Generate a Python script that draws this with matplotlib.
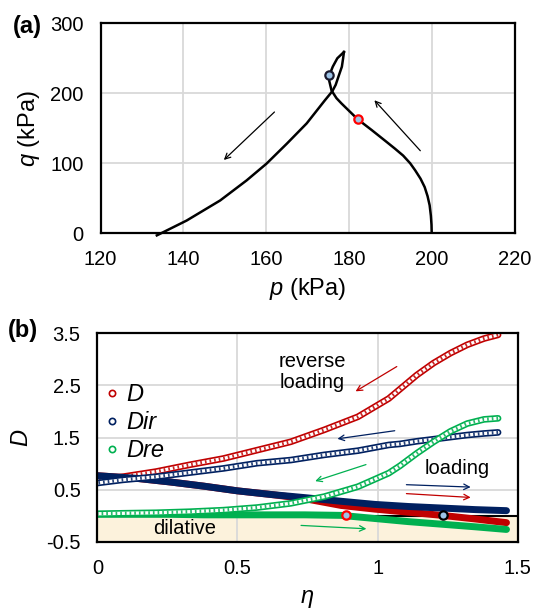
import matplotlib
matplotlib.use('Agg')
import matplotlib.pyplot as plt
import matplotlib.patheffects as pe
from matplotlib.lines import Line2D

plt.rcParams['font.family'] = 'Liberation Sans'
plt.rcParams['mathtext.fontset'] = 'custom'
plt.rcParams['mathtext.rm'] = 'Liberation Sans'
plt.rcParams['mathtext.it'] = 'Liberation Sans:italic'
plt.rcParams['axes.unicode_minus'] = False

# ---- (a) stress path, p-q ----
p_load = [200.0, 199.95, 199.8, 199.5, 199.0, 198.3, 197.3, 196.0, 194.8, 193.1,
          191.1, 189.0, 185.5, 182.1, 180.8, 179.5, 178.2, 177.0, 175.8, 175.2,
          175.3, 176.1, 177.2, 178.8]
q_load = [0, 12, 25, 40, 53, 66, 78, 90, 100, 111, 121, 131, 147.5, 163, 170.5, 178,
          185.5, 193, 204, 219, 226, 238, 250, 259]
p_rev = [178.8, 178.6, 178.3, 177.6, 176.8, 176.0, 174.2, 173.0, 169.8, 165.0,
         160.1, 155.3, 148.9, 140.8, 133.6]
q_rev = [259, 250, 238, 226, 212, 203, 190, 181, 157, 128, 99.5, 75.6, 46.9, 18.2, -3]
pts_a = [(175.3, 226), (182.1, 163)]

# ---- (b) dilatancy vs stress ratio ----
eta_load = [0.0, 0.14, 0.26, 0.38, 0.50, 0.62, 0.74, 0.87, 0.99, 1.11, 1.23, 1.35, 1.46]
D_load = [0.77, 0.72, 0.65, 0.57, 0.48, 0.41, 0.33, 0.20, 0.13, 0.07, 0.01, -0.06, -0.13]
Dir_load = [0.77, 0.72, 0.65, 0.57, 0.48, 0.41, 0.35, 0.28, 0.22, 0.18, 0.15, 0.12, 0.10]
Dre_load = [0.03, 0.03, 0.03, 0.02, 0.02, 0.02, 0.02, 0.01, -0.05, -0.11, -0.16, -0.21, -0.26]

eta_rev = [1.43, 1.38, 1.32, 1.26, 1.20, 1.14, 1.08, 1.04, 0.93, 0.81, 0.69, 0.57,
           0.45, 0.33, 0.21, 0.09, 0.0]
D_rev = [3.47, 3.40, 3.28, 3.12, 2.93, 2.70, 2.43, 2.25, 1.90, 1.65, 1.42, 1.26,
         1.10, 0.98, 0.85, 0.75, 0.67]
Dir_rev = [1.60, 1.58, 1.55, 1.51, 1.47, 1.43, 1.38, 1.36, 1.25, 1.17, 1.07, 1.01,
           0.91, 0.83, 0.75, 0.69, 0.63]
Dre_rev = [1.87, 1.85, 1.77, 1.62, 1.42, 1.20, 0.96, 0.82, 0.56, 0.37, 0.24, 0.16,
           0.11, 0.08, 0.06, 0.05, 0.04]
pts_b = [(0.887, 0.01, '#ff0000'), (1.234, 0.01, 'black')]

red, navy, green = '#c00000', '#002060', '#00b050'
fill = '#9dc3e6'
grid_c = '#d9d9d9'

fig = plt.figure(figsize=(5.33, 6.08), dpi=100)
ax1 = fig.add_axes([0.1886, 0.6163, 0.7767, 0.3454])
ax2 = fig.add_axes([0.1826, 0.1086, 0.7887, 0.3432])

for ax in (ax1, ax2):
    ax.set_axisbelow(True)
    ax.grid(True, color=grid_c, lw=1.3)
    ax.tick_params(length=0, labelsize=14.5, pad=12)
    for s in ax.spines.values():
        s.set_linewidth(1.6)

# (a)
ax1.plot(p_load, q_load, color='black', lw=1.8)
ax1.plot(p_rev, q_rev, color='black', lw=1.8, clip_on=False)
ax1.plot(*pts_a[0], 'o', ms=6, mfc=fill, mec='#1a1a2e', mew=1.6)
ax1.plot(*pts_a[1], 'o', ms=6, mfc=fill, mec='#ff0000', mew=1.6)
ax1.annotate('', xy=(149.3, 102), xytext=(162.5, 176),
             arrowprops=dict(arrowstyle='->', color='black', lw=0.9))
ax1.annotate('', xy=(185.7, 193), xytext=(197.7, 115),
             arrowprops=dict(arrowstyle='->', color='black', lw=0.9))
ax1.set_xlim(120, 220)
ax1.set_ylim(0, 300)
ax1.set_xticks([120, 140, 160, 180, 200, 220])
ax1.set_yticks([0, 100, 200, 300])
ax1.set_xlabel('$p$ (kPa)', fontsize=17, labelpad=5)
ax1.set_ylabel('$q$ (kPa)', fontsize=17, labelpad=6)
fig.text(0.025, 0.957, '(a)', fontsize=17, fontweight='bold', va='center')


# (b)
def tube(ax, x, y, c):
    ax.plot(x, y, color='white', lw=2.4, solid_capstyle='round',
            path_effects=[pe.Stroke(linewidth=4.8, foreground=c), pe.Normal()])
    ax.plot(x, y, color=c, lw=2.4, dashes=(0.5, 0.9), alpha=0.85)


ax2.axhspan(-0.5, 0, color='#fcf2dc', zorder=0.2)
ax2.axhline(0, color='black', lw=1.5, zorder=1)

ax2.plot(eta_load, D_load, color=red, lw=5, solid_capstyle='round')
tube(ax2, eta_rev, D_rev, red)
ax2.plot(eta_load, Dir_load, color=navy, lw=5, solid_capstyle='round')
tube(ax2, eta_rev, Dir_rev, navy)
ax2.plot(eta_load, Dre_load, color=green, lw=5, solid_capstyle='round')
tube(ax2, eta_rev, Dre_rev, green)

for x, y, ec in pts_b:
    ax2.plot(x, y, 'o', ms=6, mfc=fill, mec=ec, mew=1.6, zorder=5)

arrows_b = [((1.077, 2.89), (0.913, 2.36), red),
            ((1.071, 1.64), (0.847, 1.47), navy),
            ((0.968, 1.00), (0.768, 0.65), green),
            ((1.093, 0.60), (1.342, 0.55), navy),
            ((1.093, 0.43), (1.342, 0.35), red),
            ((0.717, -0.18), (0.970, -0.25), green)]
for tail, head, c in arrows_b:
    ax2.annotate('', xy=head, xytext=tail,
                 arrowprops=dict(arrowstyle='->', color=c, lw=0.9))

ax2.text(0.768, 2.76, 'reverse\nloading', fontsize=14.5, ha='center', va='center',
         linespacing=1.1)
ax2.text(1.283, 0.90, 'loading', fontsize=14.5, ha='center', va='center')
ax2.text(0.31, -0.25, 'dilative', fontsize=14.5, ha='center', va='center')

handles = [Line2D([], [], ls='none', marker='o', ms=4.5, mfc='none', mec=c, mew=1.2)
           for c in (red, navy, green)]
ax2.legend(handles, ['D', 'Dir', 'Dre'], loc='upper left', bbox_to_anchor=(0.02, 0.76),
           frameon=False, handlelength=0.5, handletextpad=0.35, labelspacing=0.2,
           borderaxespad=0, borderpad=0, prop=dict(size=17, style='italic'))

ax2.set_xlim(0, 1.5)
ax2.set_ylim(-0.5, 3.5)
ax2.set_xticks([0, 0.5, 1, 1.5])
ax2.set_xticklabels(['0', '0.5', '1', '1.5'])
ax2.set_yticks([-0.5, 0.5, 1.5, 2.5, 3.5])
ax2.set_yticklabels(['-0.5', '0.5', '1.5', '2.5', '3.5'])
ax2.set_xlabel('η', fontsize=17, style='italic', labelpad=5)
ax2.set_ylabel('D', fontsize=17, style='italic', labelpad=10)
fig.text(0.015, 0.457, '(b)', fontsize=17, fontweight='bold', va='center')

fig.savefig('out.png', dpi=100)
